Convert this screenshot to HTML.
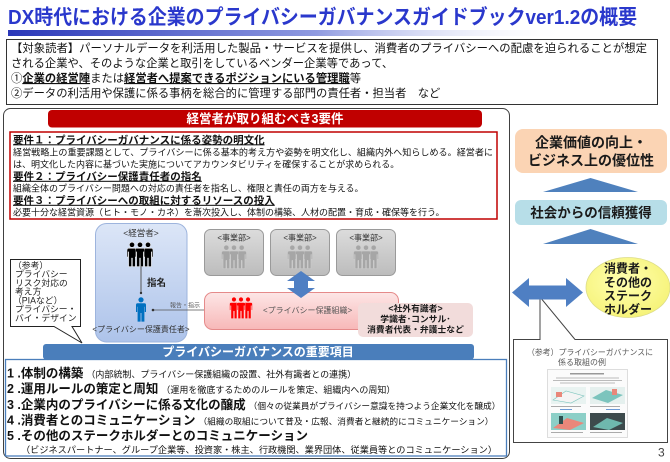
<!DOCTYPE html>
<html><head><meta charset="utf-8"><style>
html,body{margin:0;padding:0;background:#fff;}
svg{display:block;}
</style></head><body>
<svg width="670" height="462" viewBox="0 0 670 462" xmlns="http://www.w3.org/2000/svg" font-family="'Liberation Sans','Noto Sans CJK JP',sans-serif">
<defs>
<linearGradient id="bar" x1="0" x2="1" y1="0" y2="0"><stop offset="0" stop-color="#2a37b8"/><stop offset="0.55" stop-color="#8f9ae0"/><stop offset="1" stop-color="#ffffff" stop-opacity="0"/></linearGradient>
<linearGradient id="bl" x1="0" x2="0" y1="0" y2="1"><stop offset="0" stop-color="#dce6f7"/><stop offset="1" stop-color="#adc3ea"/></linearGradient>
<linearGradient id="gr" x1="0" x2="0" y1="0" y2="1"><stop offset="0" stop-color="#dcdcdc"/><stop offset="1" stop-color="#bcbcbc"/></linearGradient>
<linearGradient id="rd" x1="0" x2="0" y1="0" y2="1"><stop offset="0" stop-color="#fde6e6"/><stop offset="1" stop-color="#f7b8b8"/></linearGradient>
<radialGradient id="yl" cx="0.45" cy="0.4" r="0.6"><stop offset="0" stop-color="#ffffb0"/><stop offset="1" stop-color="#f6f37a"/></radialGradient>
<symbol id="pp" viewBox="0 0 10 25">
<circle cx="5" cy="2.8" r="2.6"/>
<path d="M1.6,6.3 H8.4 Q10,6.3 10,8 V15 H8.8 V9.8 H8.4 V24.6 H5.4 V16 H4.6 V24.6 H1.6 V9.8 H1.2 V15 H0 V8 Q0,6.3 1.6,6.3Z"/>
</symbol>
<symbol id="g3" viewBox="0 0 26 25">
<use href="#pp" x="0" y="0" width="10" height="25"/>
<use href="#pp" x="16" y="0" width="10" height="25"/>
<use href="#pp" x="8" y="0" width="10" height="25"/>
</symbol>
</defs>

<!-- Title -->
<text x="8" y="24" font-size="20.5" font-weight="700" fill="#2a38cc" textLength="629" lengthAdjust="spacingAndGlyphs">DX時代における企業のプライバシーガバナンスガイドブックver1.2の概要</text>
<rect x="8" y="30" width="560" height="6" fill="url(#bar)"/>

<!-- Target readers -->
<rect x="6.5" y="39.5" width="651" height="65" fill="#fff" stroke="#333" stroke-width="1"/>
<g font-size="11.3" fill="#111">
<text x="11" y="52" textLength="636" lengthAdjust="spacingAndGlyphs">【対象読者】パーソナルデータを利活用した製品・サービスを提供し、消費者のプライバシーへの配慮を迫られることが想定</text>
<text x="11" y="67">される企業や、そのような企業と取引をしているベンダー企業等であって、</text>
<text x="11" y="82">①<tspan font-weight="700" text-decoration="underline">企業の経営陣</tspan>または<tspan font-weight="700" text-decoration="underline">経営者へ提案できるポジションにいる管理職</tspan>等</text>
<text x="11" y="97">②データの利活用や保護に係る事柄を総合的に管理する部門の責任者・担当者　など</text>
</g>

<!-- Outer left box -->
<rect x="3.5" y="108.5" width="506" height="350" rx="7" fill="#fff" stroke="#404040" stroke-width="1"/>

<!-- Red header -->
<rect x="48" y="110" width="434" height="17.5" rx="4" fill="#c00000"/>
<text x="265" y="123" font-size="12.5" fill="#fff" text-anchor="middle" font-weight="700">経営者が取り組むべき3要件</text>

<!-- Red box -->
<rect x="10" y="132" width="487" height="87" fill="#fff" stroke="#c00000" stroke-width="1.5"/>
<g fill="#111">
<text x="13" y="143.3" font-size="10.5" font-weight="700" text-decoration="underline">要件１：プライバシーガバナンスに係る姿勢の明文化</text>
<text x="13" y="155.3" font-size="9" textLength="480" lengthAdjust="spacingAndGlyphs">経営戦略上の重要課題として、プライバシーに係る基本的考え方や姿勢を明文化し、組織内外へ知らしめる。経営者に</text>
<text x="13" y="167.3" font-size="9">は、明文化した内容に基づいた実施についてアカウンタビリティを確保することが求められる。</text>
<text x="13" y="179.8" font-size="10.5" font-weight="700" text-decoration="underline">要件２：プライバシー保護責任者の指名</text>
<text x="13" y="191.3" font-size="9">組織全体のプライバシー問題への対応の責任者を指名し、権限と責任の両方を与える。</text>
<text x="13" y="203.8" font-size="10.5" font-weight="700" text-decoration="underline">要件３：プライバシーへの取組に対するリソースの投入</text>
<text x="13" y="215.3" font-size="9">必要十分な経営資源（ヒト・モノ・カネ）を漸次投入し、体制の構築、人材の配置・育成・確保等を行う。</text>
</g>

<!-- Managers box -->
<rect x="95.5" y="223.5" width="91.5" height="118.5" rx="11" fill="url(#bl)" stroke="#9db4dd" stroke-width="1"/>
<text x="141" y="236" font-size="8.5" fill="#333" text-anchor="middle">&lt;経営者&gt;</text>
<use href="#g3" x="127" y="242" width="26" height="25" fill="#000" stroke="#fff" stroke-width="0.5"/>
<line x1="141" y1="266" x2="141" y2="293" stroke="#555" stroke-width="1"/>
<circle cx="141" cy="293" r="1.2" fill="#333"/>
<text x="147" y="286" font-size="9.5" fill="#222" font-weight="700">指名</text>
<use href="#pp" x="136" y="297" width="10" height="25" fill="#0070c0"/>
<line x1="153" y1="310" x2="217" y2="310" stroke="#555" stroke-width="0.8"/>
<circle cx="153" cy="310" r="1.3" fill="#333"/>
<circle cx="217" cy="310" r="1.3" fill="#333"/>
<text x="170" y="307.5" font-size="6" fill="#555">報告・指示</text>
<text x="141" y="332" font-size="8" fill="#333" text-anchor="middle">&lt;プライバシー保護責任者&gt;</text>

<!-- Business divisions -->
<g>
<rect x="204.5" y="229.5" width="59" height="46" rx="6" fill="url(#gr)" stroke="#9a9a9a"/>
<rect x="270.5" y="229.5" width="59" height="46" rx="6" fill="url(#gr)" stroke="#9a9a9a"/>
<rect x="336.5" y="229.5" width="59" height="46" rx="6" fill="url(#gr)" stroke="#9a9a9a"/>
<g font-size="8" fill="#333" text-anchor="middle">
<text x="234" y="240.5">&lt;事業部&gt;</text>
<text x="300" y="240.5">&lt;事業部&gt;</text>
<text x="366" y="240.5">&lt;事業部&gt;</text>
</g>
<use href="#g3" x="221" y="245" width="26" height="24" fill="#a6a6a6" stroke="#d0d0d0" stroke-width="0.5"/>
<use href="#g3" x="287" y="245" width="26" height="24" fill="#a6a6a6" stroke="#d0d0d0" stroke-width="0.5"/>
<use href="#g3" x="353" y="245" width="26" height="24" fill="#a6a6a6" stroke="#d0d0d0" stroke-width="0.5"/>
</g>

<!-- Privacy org box -->
<rect x="204.5" y="292.5" width="194" height="37" rx="8" fill="url(#rd)" stroke="#e58a8a" stroke-width="1"/>
<use href="#g3" x="228" y="297" width="26" height="22" fill="#ff0000" stroke="#fde0e0" stroke-width="0.5"/>
<text x="263" y="313" font-size="8" fill="#555">&lt;プライバシー保護組織&gt;</text>
<path d="M301,271 L315,281 L308,281 L308,288 L315,288 L301,298 L287,288 L294,288 L294,281 L287,281 Z" fill="#4f7fc3"/>

<!-- External experts -->
<rect x="358" y="303" width="115" height="34" rx="5" fill="#f2dcdb"/>
<g font-size="8.8" font-weight="700" fill="#1a1a1a" text-anchor="middle">
<text x="415.5" y="311.7">&lt;社外有識者&gt;</text>
<text x="415.5" y="322.2">学識者･コンサル･</text>
<text x="415.5" y="332.7">消費者代表・弁護士など</text>
</g>

<!-- Speech bubble -->
<path d="M10.5,259.5 H80.5 V326.5 H72 L82,343 L54,326.5 H10.5 Z" fill="#fff" stroke="#222" stroke-width="1"/>
<g font-size="8.8" fill="#222">
<text x="13" y="268.3">（参考）</text>
<text x="15" y="277.2">プライバシー</text>
<text x="15" y="286">リスク対応の</text>
<text x="15" y="294.7">考え方</text>
<text x="13" y="303.4">（PIAなど）</text>
<text x="15" y="312.1">プライバシー・</text>
<text x="15" y="320.8">バイ・デザイン</text>
</g>

<!-- Important items -->
<rect x="5.5" y="359.5" width="501" height="96.5" fill="#fff" stroke="#4a7ebb" stroke-width="1.3"/>
<rect x="43" y="344" width="431" height="15.5" rx="3" fill="#4a7ebb"/>
<text x="258" y="356" font-size="12" font-weight="700" fill="#fff" text-anchor="middle">プライバシーガバナンスの重要項目</text>
<g fill="#111">
<text x="7" y="377.5" font-size="12.5" font-weight="700">1 .体制の構築<tspan font-size="9" font-weight="400" dx="3">（内部統制、プライバシー保護組織の設置、社外有識者との連携）</tspan></text>
<text x="7" y="393.2" font-size="12.5" font-weight="700">2 .運用ルールの策定と周知<tspan font-size="9" font-weight="400" dx="3">（運用を徹底するためのルールを策定、組織内への周知）</tspan></text>
<text x="7" y="408.8" font-size="12.5" font-weight="700">3 .企業内のプライバシーに係る文化の醸成<tspan font-size="8.7" font-weight="400" dx="3">（個々の従業員がプライバシー意識を持つよう企業文化を醸成）</tspan></text>
<text x="7" y="424.4" font-size="12.5" font-weight="700">4 .消費者とのコミュニケーション<tspan font-size="8.7" font-weight="400" dx="3">（組織の取組について普及・広報、消費者と継続的にコミュニケーション）</tspan></text>
<text x="7" y="440" font-size="12.5" font-weight="700">5 .その他のステークホルダーとのコミュニケーション</text>
<text x="21" y="453.2" font-size="9" textLength="476" lengthAdjust="spacingAndGlyphs">（ビジネスパートナー、グループ企業等、投資家・株主、行政機関、業界団体、従業員等とのコミュニケーション）</text>
</g>

<!-- Right side -->
<rect x="515" y="129" width="152" height="44" rx="8" fill="#fbd4b4"/>
<g font-size="14" font-weight="700" fill="#1a1a1a" text-anchor="middle">
<text x="591" y="147.5">企業価値の向上・</text>
<text x="591" y="165.5">ビジネス上の優位性</text>
</g>
<polygon points="543,192 590.5,178 638,192" fill="#4f81bd"/>
<rect x="515" y="200" width="152" height="25" rx="6" fill="#b7dee8"/>
<text x="591" y="217.5" font-size="13.5" font-weight="700" fill="#1a1a1a" text-anchor="middle">社会からの信頼獲得</text>
<polygon points="543,244 590.5,229 638,244" fill="#4f81bd"/>

<!-- Callout -->
<path d="M513.5,339.5 H540 V297 L575,339.5 H667.5 V442.5 H513.5 Z" fill="#fff" stroke="#444" stroke-width="1"/>
<g font-size="8.2" fill="#595959">
<text x="527" y="355" textLength="126" lengthAdjust="spacingAndGlyphs">（参考）プライバシーガバナンスに</text>
<text x="558" y="365.2" textLength="48" lengthAdjust="spacingAndGlyphs">係る取組の例</text>
</g>
<!-- thumbnail -->
<rect x="547.5" y="369.5" width="80" height="68" fill="#fbfbfb" stroke="#c8c8c8" stroke-width="0.6"/>
<rect x="570" y="373" width="34" height="1.5" fill="#999"/>
<rect x="556" y="377.5" width="63" height="1" fill="#bbb"/>
<rect x="553" y="380" width="69" height="1" fill="#bbb"/>
<rect x="560" y="382.5" width="55" height="1" fill="#bbb"/>
<rect x="551" y="387" width="35" height="17" fill="#e9f3f1"/>
<polygon points="553,400 566,391 584,396 571,403" fill="#f4f4f4" stroke="#7cc4bd" stroke-width="0.6"/>
<rect x="556" y="392" width="6" height="5" fill="#e9877a"/>
<rect x="590" y="387" width="35" height="17" fill="#e5f0ee"/>
<polygon points="592,398 606,390 623,395 608,403" fill="#7cc4bd"/>
<rect x="612" y="389" width="5" height="6" fill="#e9877a"/>
<rect x="551" y="406" width="30" height="1" fill="#aaa"/>
<rect x="590" y="406" width="30" height="1" fill="#aaa"/>
<rect x="560" y="409" width="12" height="1" fill="#6b9ad6"/>
<rect x="606" y="409" width="14" height="1" fill="#6b9ad6"/>
<rect x="551" y="413" width="35" height="17" fill="#8ccfc7"/>
<polygon points="553,428 567,418 584,423 570,430" fill="#e9877a"/>
<rect x="559" y="416" width="4" height="8" fill="#2f4f4f"/>
<rect x="590" y="413" width="35" height="17" fill="#3d4a4c"/>
<polygon points="593,427 607,418 623,423 609,430" fill="#6fb8ae"/>
<rect x="551" y="432" width="32" height="1" fill="#aaa"/>
<rect x="590" y="432" width="32" height="1" fill="#aaa"/>

<!-- Ellipse -->
<ellipse cx="628" cy="287.5" rx="42" ry="30" fill="url(#yl)" stroke="#dcdc8a" stroke-width="0.8"/>
<g font-size="12" font-weight="700" fill="#1a1a1a" text-anchor="middle">
<text x="628" y="272.3">消費者・</text>
<text x="628" y="286.3">その他の</text>
<text x="628" y="299.8">ステーク</text>
<text x="628" y="313.3">ホルダー</text>
</g>
<path d="M512,292.5 L529,278 L529,285.5 L566,285.5 L566,278 L583,292.5 L566,307 L566,299.5 L529,299.5 L529,307 Z" fill="#4f7fc3"/>

<text x="658" y="456.5" font-size="12" fill="#404040">3</text>
</svg>
</body></html>
